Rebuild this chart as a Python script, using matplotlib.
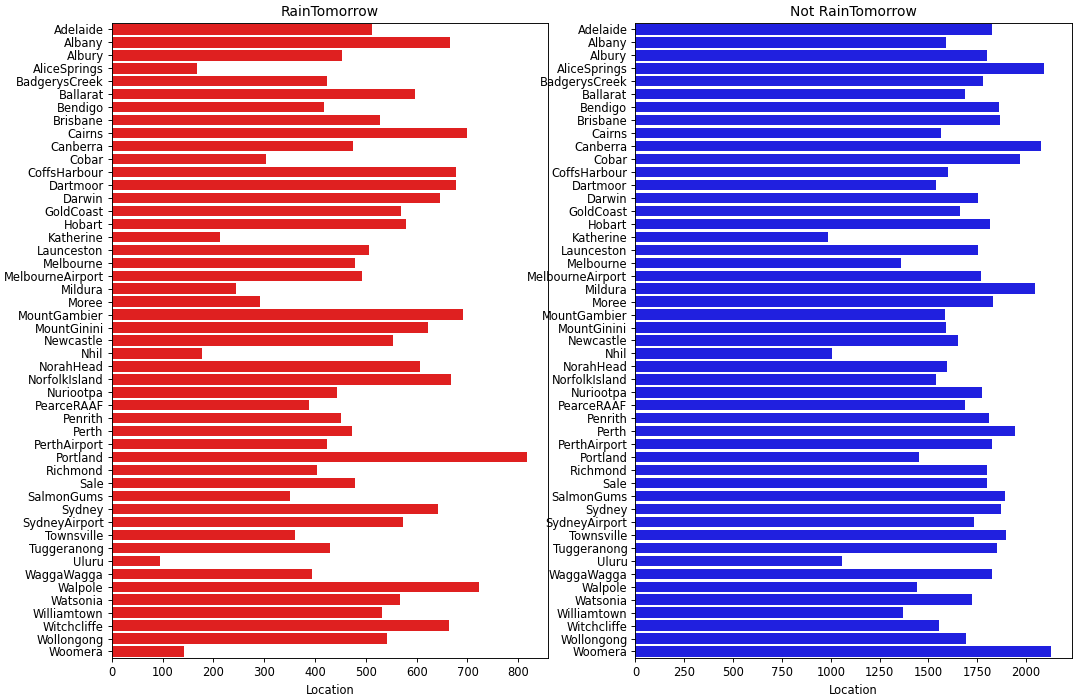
import numpy as np
import pandas as pd
import matplotlib
matplotlib.use("Agg")
import matplotlib.pyplot as plt
import seaborn as sns

locations = ["Adelaide", "Albany", "Albury", "AliceSprings", "BadgerysCreek", "Ballarat",
             "Bendigo", "Brisbane", "Cairns", "Canberra", "Cobar", "CoffsHarbour", "Dartmoor",
             "Darwin", "GoldCoast", "Hobart", "Katherine", "Launceston", "Melbourne",
             "MelbourneAirport", "Mildura", "Moree", "MountGambier", "MountGinini", "Newcastle",
             "Nhil", "NorahHead", "NorfolkIsland", "Nuriootpa", "PearceRAAF", "Penrith", "Perth",
             "PerthAirport", "Portland", "Richmond", "Sale", "SalmonGums", "Sydney",
             "SydneyAirport", "Townsville", "Tuggeranong", "Uluru", "WaggaWagga", "Walpole",
             "Watsonia", "Williamtown", "Witchcliffe", "Wollongong", "Woomera"]

rain_yes = [513, 665, 454, 168, 424, 597, 418, 528, 700, 475, 304, 677, 678, 646, 570, 580,
            213, 506, 478, 493, 245, 292, 692, 623, 554, 178, 607, 668, 444, 388, 451, 473,
            424, 818, 403, 478, 351, 642, 573, 361, 429, 95, 395, 722, 568, 532, 663, 542, 142]

rain_no = [1827, 1590, 1799, 2090, 1777, 1687, 1861, 1867, 1565, 2077, 1971, 1601, 1538,
           1752, 1662, 1815, 986, 1752, 1358, 1770, 2043, 1831, 1586, 1590, 1649, 1005, 1595,
           1540, 1773, 1687, 1811, 1942, 1824, 1451, 1802, 1799, 1892, 1871, 1734, 1896, 1853,
           1056, 1824, 1441, 1721, 1369, 1552, 1692, 2128]

dpi = 83
fig, axes = plt.subplots(1, 2, figsize=(1080 / dpi, 697 / dpi), dpi=dpi)
plt.subplots_adjust(left=0.1035, right=0.9925, top=0.967, bottom=0.056, wspace=0.2)

sns.barplot(x=rain_yes, y=locations, color="red", ax=axes[0])
axes[0].set_title("RainTomorrow")
axes[0].set_xlabel("Location")

sns.barplot(x=rain_no, y=locations, color="blue", ax=axes[1])
axes[1].set_title("Not RainTomorrow")
axes[1].set_xlabel("Location")

for ax in axes:
    ax.set_ylabel("")

plt.savefig("out.png", dpi=dpi)
